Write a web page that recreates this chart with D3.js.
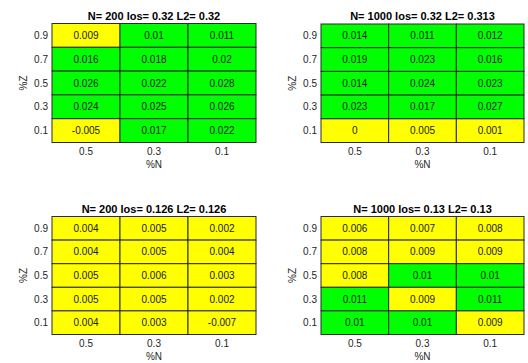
<!DOCTYPE html>
<html>
<head>
<meta charset="utf-8">
<script src="https://cdn.jsdelivr.net/npm/d3@7"></script>
<style>
  body { margin: 0; background: #fff; }
  text { font-family: "Liberation Sans", Arial, sans-serif; }
</style>
</head>
<body>
<svg id="chart" width="528" height="363"></svg>
<script>
// column / row labels
var colLabels = ['0.5', '0.3', '0.1'];
var rowLabels = ['0.9', '0.7', '0.5', '0.3', '0.1'];

// panel titles
var titles = [
  'N= 200 los= 0.32 L2= 0.32',
  'N= 1000 los= 0.32 L2= 0.313',
  'N= 200 los= 0.126 L2= 0.126',
  'N= 1000 los= 0.13 L2= 0.13'
];

// values, rows top->bottom (0.9 .. 0.1), columns 0.5, 0.3, 0.1
var vals200a = [
  ['0.009', '0.01', '0.011'],
  ['0.016', '0.018', '0.02'],
  ['0.026', '0.022', '0.028'],
  ['0.024', '0.025', '0.026'],
  ['-0.005', '0.017', '0.022']
];
var vals1000a = [
  ['0.014', '0.011', '0.012'],
  ['0.019', '0.023', '0.016'],
  ['0.014', '0.024', '0.023'],
  ['0.023', '0.017', '0.027'],
  ['0', '0.005', '0.001']
];
var vals200b = [
  ['0.004', '0.005', '0.002'],
  ['0.004', '0.005', '0.004'],
  ['0.005', '0.006', '0.003'],
  ['0.005', '0.005', '0.002'],
  ['0.004', '0.003', '-0.007']
];
var vals1000b = [
  ['0.006', '0.007', '0.008'],
  ['0.008', '0.009', '0.009'],
  ['0.008', '0.01', '0.01'],
  ['0.011', '0.009', '0.011'],
  ['0.01', '0.01', '0.009']
];

var panels = [
  {title: titles[0], data: vals200a, x0: 52, x1: 256, y0: 23.5, y1: 142.5},
  {title: titles[1], data: vals1000a, x0: 321, x1: 524, y0: 24, y1: 142.5},
  {title: titles[2], data: vals200b, x0: 52, x1: 256, y0: 216.5, y1: 334.5},
  {title: titles[3], data: vals1000b, x0: 321, x1: 524, y0: 216.5, y1: 334.5}
];

var svg = d3.select('#chart');

panels.forEach(function(p) {
  var x = d3.scaleBand().domain(colLabels).range([p.x0, p.x1]);
  var y = d3.scaleBand().domain(rowLabels).range([p.y0, p.y1]);
  var g = svg.append('g');

  var cells = [];
  p.data.forEach(function(row, i) {
    row.forEach(function(v, j) {
      cells.push({r: rowLabels[i], c: colLabels[j], v: v});
    });
  });

  g.selectAll('rect.cell').data(cells).enter().append('rect')
    .attr('class', 'cell')
    .attr('x', function(d) { return x(d.c); })
    .attr('y', function(d) { return y(d.r); })
    .attr('width', x.bandwidth())
    .attr('height', y.bandwidth())
    .attr('fill', function(d) { return +d.v >= 0.01 ? '#00ff00' : '#ffff00'; })
    .attr('stroke', '#2b2b2b')
    .attr('stroke-width', 1);

  g.selectAll('text.val').data(cells).enter().append('text')
    .attr('x', function(d) { return x(d.c) + x.bandwidth() / 2; })
    .attr('y', function(d) { return y(d.r) + y.bandwidth() / 2; })
    .attr('dy', '0.35em')
    .attr('text-anchor', 'middle')
    .attr('font-size', 10)
    .attr('fill', '#1a1a1a')
    .text(function(d) { return d.v; });

  // y tick labels
  g.selectAll('text.yt').data(rowLabels).enter().append('text')
    .attr('x', p.x0 - 4)
    .attr('y', function(d) { return y(d) + y.bandwidth() / 2; })
    .attr('dy', '0.35em')
    .attr('text-anchor', 'end')
    .attr('font-size', 10)
    .attr('fill', '#262626')
    .text(function(d) { return d; });

  // x tick labels
  g.selectAll('text.xt').data(colLabels).enter().append('text')
    .attr('x', function(d) { return x(d) + x.bandwidth() / 2; })
    .attr('y', p.y1 + 8.5)
    .attr('dy', '0.35em')
    .attr('text-anchor', 'middle')
    .attr('font-size', 10)
    .attr('fill', '#262626')
    .text(function(d) { return d; });

  g.append('text')
    .attr('x', (p.x0 + p.x1) / 2)
    .attr('y', p.y1 + 22)
    .attr('dy', '0.35em')
    .attr('text-anchor', 'middle')
    .attr('font-size', 10)
    .attr('fill', '#262626')
    .text('%N');

  var cy = (p.y0 + p.y1) / 2;
  g.append('text')
    .attr('transform', 'translate(' + (p.x0 - 29) + ',' + cy + ') rotate(-90)')
    .attr('dy', '0.35em')
    .attr('text-anchor', 'middle')
    .attr('font-size', 10)
    .attr('fill', '#262626')
    .text('%Z');

  g.append('text')
    .attr('x', (p.x0 + p.x1) / 2)
    .attr('y', p.y0 - 4)
    .attr('text-anchor', 'middle')
    .attr('font-size', 11)
    .attr('font-weight', 'bold')
    .attr('fill', '#000')
    .text(p.title);
});
</script>
</body>
</html>
